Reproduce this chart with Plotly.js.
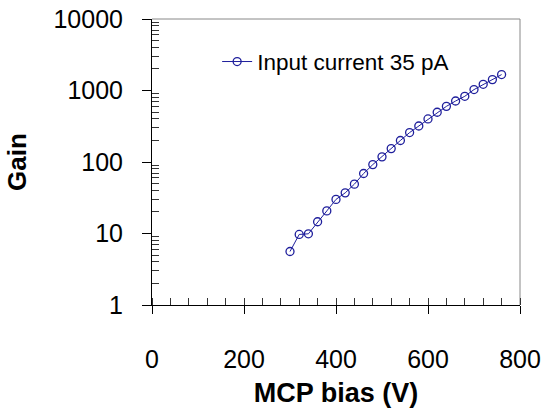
<!DOCTYPE html>
<html>
<head>
<meta charset="utf-8">
<script src="https://cdn.plot.ly/plotly-3.0.1.min.js"></script>
<style>html,body{margin:0;padding:0;background:#fff;}#chart{width:547px;height:408px;}</style>
</head>
<body>
<div id="chart"></div>
<script>
// Data
const mcpBias = [300, 320, 340, 360, 380, 400, 420, 440, 460, 480, 500, 520,
                 540, 560, 580, 600, 620, 640, 660, 680, 700, 720, 740, 760];
const gain = [5.6, 9.7, 9.9, 14.6, 20.7, 30, 37, 49, 69, 92, 118, 154,
              200, 258, 319, 400, 496, 600, 713, 830, 1030, 1220, 1420, 1670];
const seriesName = 'Input current 35 pA';
const xTickVals = [0, 200, 400, 600, 800];
const yTickVals = [1, 10, 100, 1000, 10000];
const yTickText = ['1', '10', '100', '1000', '10000'];
const xTitle = 'MCP bias (V)';
const yTitle = 'Gain';

const yMinor = [];
for (let d = 1; d <= 1000; d *= 10) for (let k = 2; k <= 9; k++) yMinor.push(k * d);

const font = 'Liberation Sans, Arial, sans-serif';
const navy = '#1f1f9c';

const trace = {
  x: mcpBias, y: gain, name: seriesName, type: 'scatter', mode: 'lines+markers',
  line: {color: navy, width: 1},
  marker: {symbol: 'circle-open', size: 8, color: navy, line: {width: 1.3, color: navy}}
};

const layout = {
  width: 547, height: 408, autosize: false,
  margin: {l: 152, r: 27, t: 19, b: 103, pad: 0},
  paper_bgcolor: '#fff', plot_bgcolor: '#fff',
  font: {family: font, color: '#000', size: 25},
  showlegend: true,
  legend: {x: 0.177, y: 0.85, xanchor: 'left', yanchor: 'middle', bgcolor: 'rgba(0,0,0,0)',
           font: {family: font, size: 22.5, color: '#000'}},
  xaxis: {
    range: [0, 800], tickmode: 'array', tickvals: xTickVals,
    ticks: 'outside', ticklen: 8, tickwidth: 1, tickcolor: '#000',
    showline: true, linecolor: '#000', linewidth: 1, showgrid: false, zeroline: false,
    ticklabelstandoff: 24,
    tickfont: {size: 25, family: font},
    minor: {ticks: 'inside', ticklen: 7, dtick: 40, tick0: 0, tickcolor: '#333', tickwidth: 1, showgrid: false},
    title: {text: xTitle, font: {size: 27, family: font, weight: 'bold'}, standoff: 19}
  },
  yaxis: {
    type: 'log', range: [0, 4], tickmode: 'array', tickvals: yTickVals, ticktext: yTickText,
    ticks: 'outside', ticklen: 9, tickwidth: 1, tickcolor: '#000',
    showline: true, linecolor: '#000', linewidth: 1, showgrid: false, zeroline: false,
    ticklabelstandoff: 14,
    tickfont: {size: 25, family: font},
    minor: {ticks: 'inside', ticklen: 7, tickmode: 'array', tickvals: yMinor, tickcolor: '#333', tickwidth: 1, showgrid: false},
    title: {text: yTitle, font: {size: 26, family: font, weight: 'bold'}, standoff: 19}
  },
  xaxis2: {overlaying: 'x', anchor: 'y', side: 'bottom', range: [0, 800], tickmode: 'array', tickvals: xTickVals,
           ticks: 'inside', ticklen: 7, tickcolor: '#000', showticklabels: false, showline: false,
           showgrid: false, zeroline: false},
  yaxis2: {overlaying: 'y', anchor: 'x', side: 'left', type: 'log', range: [0, 4], tickmode: 'array', tickvals: yTickVals,
           ticks: 'inside', ticklen: 7, tickcolor: '#000', showticklabels: false, showline: false,
           showgrid: false, zeroline: false},
  shapes: [
    {type: 'line', xref: 'paper', yref: 'paper', x0: 0, x1: 1, y0: 1, y1: 1, line: {color: '#888', width: 1}, layer: 'below'},
    {type: 'line', xref: 'paper', yref: 'paper', x0: 1, x1: 1, y0: 0, y1: 1, line: {color: '#888', width: 1}, layer: 'below'}
  ]
};

Plotly.newPlot('chart', [trace], layout, {displayModeBar: false, staticPlot: true});
</script>
</body>
</html>
